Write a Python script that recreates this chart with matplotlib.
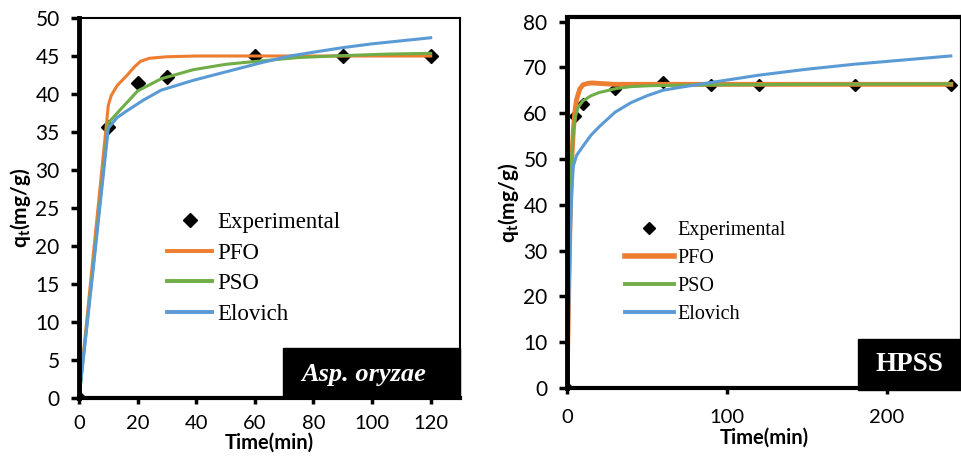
import numpy as np
import matplotlib
matplotlib.use("Agg")
import matplotlib.pyplot as plt
from matplotlib.patches import Rectangle
from matplotlib.lines import Line2D

plt.rcParams['font.family'] = ['Lato', 'DejaVu Sans']
plt.rcParams['mathtext.fontset'] = 'custom'
plt.rcParams['mathtext.bf'] = 'Lato:bold'
plt.rcParams['mathtext.rm'] = 'Lato:bold'

## donnees - Asp. oryzae
a_t_exp = [0, 10, 20, 30, 60, 90, 120]
a_q_exp = [0, 35.6, 41.4, 42.3, 45.0, 45.0, 45.0]
a_t_pfo = [0, 5, 10, 11, 13, 16, 19, 21, 24, 30, 40, 60, 90, 120]
a_q_pfo = [0, 19.3, 38.5, 39.8, 41.1, 42.3, 43.6, 44.3, 44.7, 44.9, 45.0, 45.0, 45.0, 45.0]
a_t_pso = [0, 5, 10, 14, 20, 28, 39, 50, 62, 75, 90, 105, 120]
a_q_pso = [0, 18, 36.2, 37.9, 40.4, 42.0, 43.2, 43.9, 44.35, 44.8, 45.05, 45.25, 45.35]
a_t_elo = [0, 5, 10, 13, 16, 22, 28, 39, 50, 62, 72, 80, 90, 100, 110, 120]
a_q_elo = [0, 17.5, 35.5, 36.9, 37.7, 39.2, 40.5, 41.8, 42.9, 44.1, 45.0, 45.5, 46.1, 46.6, 47.0, 47.4]

## donnees - HPSS
h_t_exp = [0, 5, 10, 30, 60, 90, 120, 180, 240]
h_q_exp = [0, 59.3, 62.0, 65.2, 66.8, 66.2, 66.2, 66.2, 66.2]
h_t_pfo = [0, 1, 2, 3, 4, 5, 6, 8, 10, 13, 16, 20, 30, 60, 120, 180, 240]
h_q_pfo = [0, 20, 38, 50, 56.5, 60.5, 63, 65.3, 66.2, 66.5, 66.6, 66.5, 66.3, 66.3, 66.3, 66.3, 66.3]
h_t_pso = [0, 1, 2, 3, 4, 5, 7, 10, 15, 20, 31, 40, 52, 70, 100, 150, 240]
h_q_pso = [0, 22, 40, 51, 56, 59, 61.3, 62.7, 63.8, 64.5, 65.4, 65.8, 66.0, 66.1, 66.2, 66.3, 66.4]
h_t_elo = [0, 1, 2, 3, 4, 6, 10, 15, 20, 30, 40, 50, 60, 70, 90, 120, 150, 180, 210, 240]
h_q_elo = [0, 15, 32, 43, 48.5, 50.8, 52.8, 55.2, 57.0, 60.2, 62.3, 63.8, 65.0, 65.6, 66.7, 68.3, 69.6, 70.7, 71.6, 72.5]

c_pfo = '#ED7D31'
c_pso = '#70AD47'
c_elo = '#5B9BD5'

fig = plt.figure(figsize=(9.62, 4.57), dpi=100)
ax0 = fig.add_axes([79/962, 1-398/457, 381/962, 380/457])
ax1 = fig.add_axes([567/962, 1-388/457, 395/962, 371/457])

def habillage(ax, spw, xpad, lpad):
    for s, w in spw.items():
        ax.spines[s].set_linewidth(w)
        ax.spines[s].set_color('black')
    ax.tick_params(axis='y', direction='out', length=6, width=2.5, labelsize=15, pad=8)
    ax.tick_params(axis='x', direction='out', length=4, width=2.5, labelsize=14.5, pad=xpad)
    ax.set_xlabel('Time(min)', fontsize=14.5, fontweight='bold', labelpad=lpad)
    ax.set_ylabel(r'q$_\mathbf{t}$(mg/g)', fontsize=15, fontweight='bold', labelpad=2)

lab = ['Experimental', 'PFO', 'PSO', 'Elovich']

## panneau gauche
lw = 2.2
ax0.plot(a_t_pfo, a_q_pfo, color=c_pfo, lw=lw)
ax0.plot(a_t_pso, a_q_pso, color=c_pso, lw=lw)
ax0.plot(a_t_elo, a_q_elo, color=c_elo, lw=lw)
ax0.plot(a_t_exp, a_q_exp, 'D', color='black', ms=7, zorder=1)
ax0.set_xlim(0, 130)
ax0.set_ylim(0, 50)
ax0.set_xticks(np.arange(0, 121, 20))
ax0.set_yticks(np.arange(0, 51, 5))
habillage(ax0, {'left': 3.5, 'bottom': 3, 'top': 1.5, 'right': 1.5}, 8.5, 0)

h = [Line2D([], [], ls='none', marker='D', color='black', ms=7),
     Line2D([], [], color=c_pfo, lw=2.8),
     Line2D([], [], color=c_pso, lw=2.8),
     Line2D([], [], color=c_elo, lw=2.8)]
ax0.legend(h, lab, loc='upper left', bbox_to_anchor=(0.2, 0.52), frameon=False,
           prop={'family': 'Liberation Serif', 'size': 16.5}, handlelength=2.0,
           handletextpad=0.2, labelspacing=0.42, borderpad=0)

ax0.add_patch(Rectangle((0.535, 0), 0.465, 0.132, transform=ax0.transAxes,
                        color='black', zorder=5, clip_on=False))
ax0.text(0.748, 0.062, 'Asp. oryzae', transform=ax0.transAxes, color='white',
         fontsize=19, fontweight='bold', fontstyle='italic', family='Liberation Serif',
         ha='center', va='center', zorder=6)

## panneau droit
ax1.plot(h_t_pfo, h_q_pfo, color=c_pfo, lw=3.5)
ax1.plot(h_t_pso, h_q_pso, color=c_pso, lw=lw)
ax1.plot(h_t_elo, h_q_elo, color=c_elo, lw=lw)
ax1.plot(h_t_exp, h_q_exp, 'D', color='black', ms=6.5, zorder=1)
ax1.set_xlim(0, 247)
ax1.set_ylim(0, 81)
ax1.set_xticks([0, 100, 200])
ax1.set_yticks(np.arange(0, 81, 10))
habillage(ax1, {'left': 3.5, 'bottom': 3, 'top': 3, 'right': 3}, 11, 1.5)

h2 = [Line2D([], [], ls='none', marker='D', color='black', ms=6.5),
      Line2D([], [], color=c_pfo, lw=4),
      Line2D([], [], color=c_pso, lw=2.8),
      Line2D([], [], color=c_elo, lw=2.8)]
ax1.legend(h2, lab, loc='upper left', bbox_to_anchor=(0.122, 0.478), frameon=False,
           prop={'family': 'Liberation Serif', 'size': 14.5}, handlelength=2.4,
           handletextpad=0.2, labelspacing=0.44, borderpad=0)

ax1.add_patch(Rectangle((0.737, -0.005), 0.3, 0.137, transform=ax1.transAxes,
                        color='black', zorder=5, clip_on=False))
ax1.text(0.868, 0.062, 'HPSS', transform=ax1.transAxes, color='white',
         fontsize=19.5, fontweight='bold', family='Liberation Serif',
         ha='center', va='center', zorder=6)

fig.savefig('out.png', dpi=100)
